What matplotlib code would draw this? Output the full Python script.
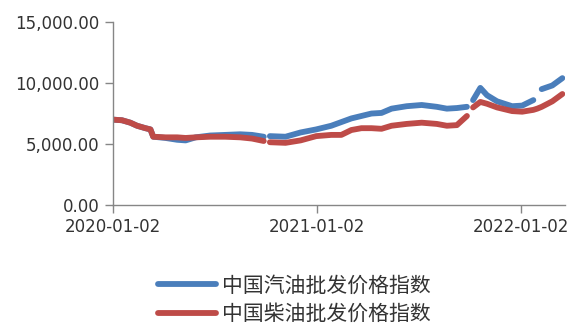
import numpy as np
import pandas as pd
import matplotlib
matplotlib.use("Agg")
import matplotlib.pyplot as plt
import matplotlib.dates as mdates
from matplotlib.ticker import FuncFormatter

plt.rcParams['font.family'] = ['Noto Sans CJK SC', 'DejaVu Sans']

nan = np.nan

# wholesale price index samples (roughly every 2-4 weeks); NaN = no quote (holidays)
dates = pd.to_datetime([
    '2020-01-02', '2020-01-18', '2020-02-02', '2020-02-14', '2020-02-29',
    '2020-03-09', '2020-03-14', '2020-04-05', '2020-04-26', '2020-05-11',
    '2020-05-29', '2020-06-24', '2020-07-21', '2020-08-17', '2020-09-07',
    '2020-09-28', '2020-10-03', '2020-10-09', '2020-11-06', '2020-12-03',
    '2020-12-31', '2021-01-27', '2021-02-14', '2021-03-04', '2021-03-22',
    '2021-04-09', '2021-04-27', '2021-05-15', '2021-06-11', '2021-07-08',
    '2021-08-04', '2021-08-22', '2021-09-09', '2021-09-27', '2021-10-03',
    '2021-10-08', '2021-10-21', '2021-11-02', '2021-11-20', '2021-12-17',
    '2022-01-04', '2022-01-24', '2022-01-31', '2022-02-08', '2022-02-27',
    '2022-03-17',
])

gasoline = [
    7000, 6950, 6750, 6500, 6300,
    6200, 5600, 5500, 5350, 5300,
    5550, 5700, 5750, 5800, 5750,
    5600, nan, 5650, 5600, 5950,
    6200, 6500, 6800, 7100, 7300,
    7500, 7550, 7900, 8100, 8200,
    8050, 7900, 7950, 8050, nan,
    8600, 9600, 9000, 8500, 8100,
    8150, 8600, nan, 9500, 9800,
    10400,
]

diesel = [
    7000, 6950, 6750, 6500, 6300,
    6200, 5600, 5550, 5550, 5500,
    5550, 5600, 5600, 5550, 5450,
    5250, nan, 5150, 5100, 5300,
    5650, 5750, 5750, 6150, 6300,
    6300, 6250, 6500, 6650, 6750,
    6650, 6500, 6550, 7300, nan,
    8000, 8450, 8300, 8000, 7700,
    7650, 7800, 7900, 8050, 8500,
    9100,
]

tick_dates = pd.to_datetime(['2020-01-02', '2021-01-02', '2022-01-02'])
y_ticks = [0, 5000, 10000, 15000]

fig = plt.figure(figsize=(5.68, 3.23), dpi=100)
ax = fig.add_axes([0.199, 0.365, 0.796, 0.567])

ax.plot(dates, gasoline, color='#4A7EBB', lw=4.2, solid_capstyle='round',
        label='中国汽油批发价格指数')
ax.plot(dates, diesel, color='#BE4B48', lw=4.2, solid_capstyle='round',
        label='中国柴油批发价格指数')

ax.set_ylim(0, 15000)
ax.set_xlim(pd.Timestamp('2020-01-02'), pd.Timestamp('2022-03-22'))
ax.set_yticks(y_ticks)
ax.yaxis.set_major_formatter(FuncFormatter(lambda v, p: f'{v:,.2f}'))
ax.set_xticks(tick_dates)
ax.xaxis.set_major_formatter(mdates.DateFormatter('%Y-%m-%d'))

for side in ('top', 'right'):
    ax.spines[side].set_visible(False)
for side in ('left', 'bottom'):
    ax.spines[side].set_color('#868686')
    ax.spines[side].set_linewidth(1.0)

ax.tick_params(axis='both', direction='out', length=6, width=1.0,
               color='#868686', labelcolor='#333333')
ax.tick_params(axis='y', pad=4)
ax.tick_params(axis='x', pad=3)
for lbl in ax.get_xticklabels() + ax.get_yticklabels():
    lbl.set_fontfamily('DejaVu Sans')
    lbl.set_fontsize(12)

fig.legend(loc='center', bbox_to_anchor=(0.518, 0.072), frameon=False,
           prop={'size': 15}, handlelength=2.8, handletextpad=0.3,
           labelspacing=0.3, borderaxespad=0)
for t in fig.legends[0].get_texts():
    t.set_color('#333333')

fig.savefig('out.png', dpi=100)
